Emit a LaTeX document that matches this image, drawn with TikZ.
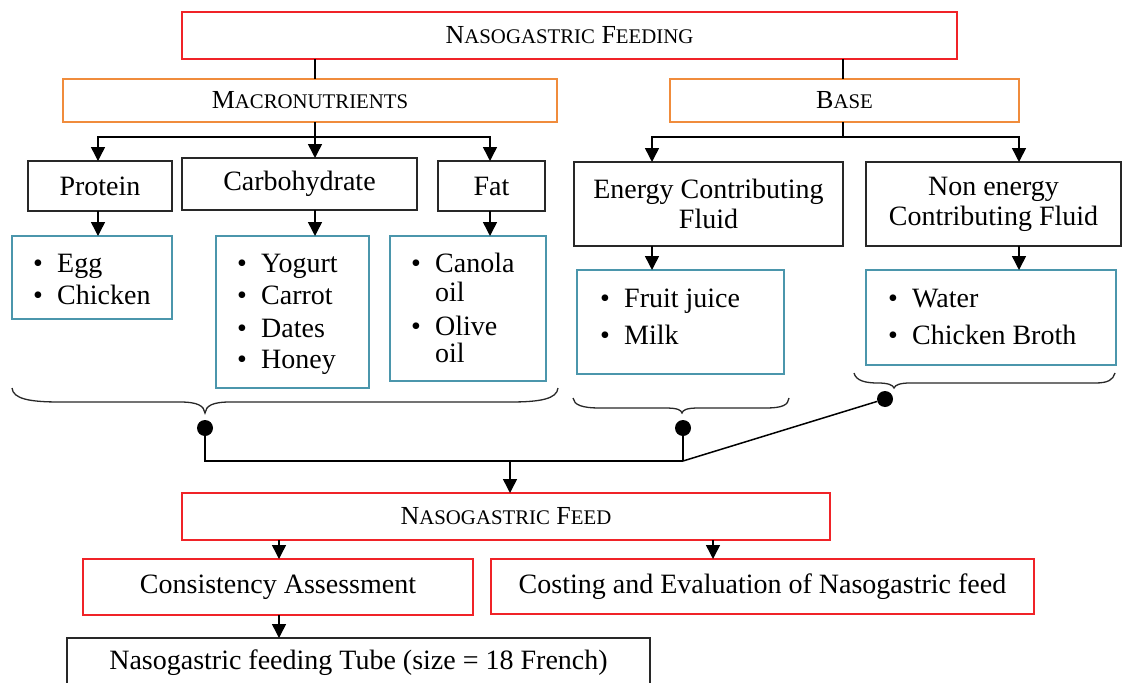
\documentclass[tikz,border=0pt]{standalone}
\usepackage{fontspec}
\setmainfont{Liberation Serif}
\usetikzlibrary{arrows.meta,calc}
\definecolor{boxred}{RGB}{240,35,40}
\definecolor{boxorange}{RGB}{240,140,60}
\definecolor{boxteal}{RGB}{75,150,172}
\definecolor{boxblack}{RGB}{40,40,40}
\newcommand{\sckap}[2]{#1{\fontsize{20.8}{22}\selectfont #2}}
\newcommand{\lowr}[1]{\raisebox{-2.5pt}{#1}}
\begin{document}
\begin{tikzpicture}[x=1pt,y=-1pt,
  base/.style={draw, line width=1.3pt, inner sep=0pt, outer sep=0pt, align=center,
    font=\fontsize{28}{30}\selectfont},
  redbox/.style={base, draw=boxred},
  orangebox/.style={base, draw=boxorange},
  blackbox/.style={base, draw=boxblack},
  tealbox/.style={base, draw=boxteal},
  titlefont/.style={font=\fontsize{26}{28}\selectfont},
  item/.style={inner sep=0pt, font=\fontsize{28}{30}\selectfont},
  conn/.style={line width=1.5pt, draw=black},
  arr/.style={conn, -{Triangle[width=14pt,length=14pt]}},
  brace/.style={line width=1.3pt, draw=boxblack},
  dot/.style={circle, fill=black, inner sep=0pt, minimum size=16pt}]
\clip (0,0) rectangle (1123,682);
\fill[white] (0,0) rectangle (1123,682);
\newcommand{\bx}[7]{%
  \pgfmathsetmacro{\bw}{#5-#3}\pgfmathsetmacro{\bh}{#6-#4}%
  \node[#1, minimum width=\bw pt, minimum height=\bh pt, anchor=north west] (#2) at (#3,#4) {#7};}
\newcommand{\itm}[4]{\node[item, anchor=base west] (#1) at (#2-24,#3) {\makebox[24pt][l]{\textbullet}#4};}
\newcommand{\cont}[4]{\node[item, anchor=base west] (#1) at (#2,#3) {#4};}
% boxes
\bx{redbox,titlefont}{top}{182}{12}{957}{59}{\lowr{\sckap{N}{ASOGASTRIC} \sckap{F}{EEDING}}}
\bx{orangebox,titlefont}{macro}{63}{79}{557}{122}{\lowr{\sckap{M}{ACRONUTRIENTS}}}
\bx{orangebox,titlefont}{basebox}{670}{79}{1019}{122}{\lowr{\sckap{B}{ASE}}}
\bx{blackbox}{protein}{28}{161}{172}{211}{Protein}
\bx{blackbox}{carb}{182}{158}{417}{210}{Carbohydrate}
\bx{blackbox}{fat}{438}{161}{545}{211}{Fat}
\bx{blackbox}{energy}{574}{162}{843}{246}{Energy Contributing\\Fluid}
\bx{blackbox}{nonen}{866}{162}{1121}{246}{Non energy\\Contributing Fluid}
\bx{tealbox}{egglist}{12}{236}{172}{319}{}
\bx{tealbox}{carblist}{216}{236}{369}{388}{}
\bx{tealbox}{fatlist}{390}{236}{546}{381}{}
\bx{tealbox}{elist}{577}{270}{784}{374}{}
\bx{tealbox}{nlist}{866}{270}{1116}{365}{}
\bx{redbox,titlefont}{feed}{182}{493}{830}{540}{\lowr{\sckap{N}{ASOGASTRIC} \sckap{F}{EED}}}
\bx{redbox}{consist}{83}{559}{473}{615}{Consistency Assessment}
\bx{redbox}{costing}{491}{559}{1034}{614}{Costing and Evaluation of Nasogastric feed}
\bx{blackbox}{tube}{67}{638}{650}{688}{Nasogastric feeding Tube (size = 18 French)}
% list items
\itm{i1}{57}{272}{Egg}
\itm{i2}{57}{304}{Chicken}
\itm{i3}{261}{272}{Yogurt}
\itm{i4}{261}{304}{Carrot}
\itm{i5}{261}{337}{Dates}
\itm{i6}{261}{368}{Honey}
\itm{i7}{435}{272}{Canola}
\cont{i7b}{435}{301}{oil}
\itm{i8}{435}{335}{Olive}
\cont{i8b}{435}{362}{oil}
\itm{i9}{624}{307}{Fruit juice}
\itm{i10}{624}{344}{Milk}
\itm{i11}{912}{307}{Water}
\itm{i12}{912}{344}{Chicken Broth}
% column coordinates
\coordinate (cM) at (315,0);
\coordinate (cB) at (843,0);
\coordinate (cP) at (98,0);
\coordinate (cF) at (490,0);
\coordinate (cE) at (652,0);
\coordinate (cN) at (1019,0);
\coordinate (cFd) at (510,0);
\coordinate (cCo) at (279,0);
\coordinate (cCs) at (713,0);
\coordinate (jm) at (315,137);
\coordinate (jb) at (843,137);
% top connectors
\draw[conn] (top.south -| cM) -- (macro.north -| cM);
\draw[conn] (top.south -| cB) -- (basebox.north -| cB);
\draw[conn] (macro.south -| cM) -- (jm);
\draw[arr] (jm) -| (protein.north -| cP);
\draw[arr] (jm) -- (carb.north -| jm);
\draw[arr] (jm) -| (fat.north -| cF);
\draw[conn] (basebox.south -| cB) -- (jb);
\draw[arr] (jb) -| (energy.north -| cE);
\draw[arr] (jb) -| (nonen.north -| cN);
\draw[arr] (protein.south -| cP) -- (egglist.north -| cP);
\draw[arr] (carb.south -| cM) -- (carblist.north -| cM);
\draw[arr] (fat.south -| cF) -- (fatlist.north -| cF);
\draw[arr] (energy.south -| cE) -- (elist.north -| cE);
\draw[arr] (nonen.south -| cN) -- (nlist.north -| cN);
% braces
\draw[brace] (12,388) .. controls (13,399) and (30,402) .. (60,402) -- (180,402)
  .. controls (198,402) and (204,406) .. (205,413)
  .. controls (206,406) and (212,402) .. (230,402) -- (510,402)
  .. controls (540,402) and (557,399) .. (558,388);
\draw[brace] (573,398) .. controls (574,405) and (582,408) .. (600,408) -- (665,408)
  .. controls (678,408) and (681,410) .. (682,413)
  .. controls (683,410) and (686,408) .. (699,408) -- (765,408)
  .. controls (783,408) and (788,405) .. (789,398);
\draw[brace] (854,373) .. controls (856,381) and (866,383) .. (878,383)
  .. controls (888,383) and (893,385) .. (894,388)
  .. controls (895,385) and (900,383) .. (910,383) -- (1095,383)
  .. controls (1108,383) and (1113,380) .. (1115,373);
% dots and joins
\node[dot] (dl) at (205,428) {};
\node[dot] (dm) at (683,428) {};
\node[dot] (dr) at (885,399) {};
\coordinate (jL) at (205,461);
\coordinate (jR) at (683,461);
\draw[conn] (dl) -- (jL) -- (jR);
\draw[conn] (dm) -- (jR);
\draw[conn] (dr) -- (jR);
\draw[arr] (jL -| cFd) -- (feed.north -| cFd);
\draw[arr] (feed.south -| cCo) -- (consist.north -| cCo);
\draw[arr] (feed.south -| cCs) -- (costing.north -| cCs);
\draw[arr] (consist.south -| cCo) -- (tube.north -| cCo);
\end{tikzpicture}
\end{document}
